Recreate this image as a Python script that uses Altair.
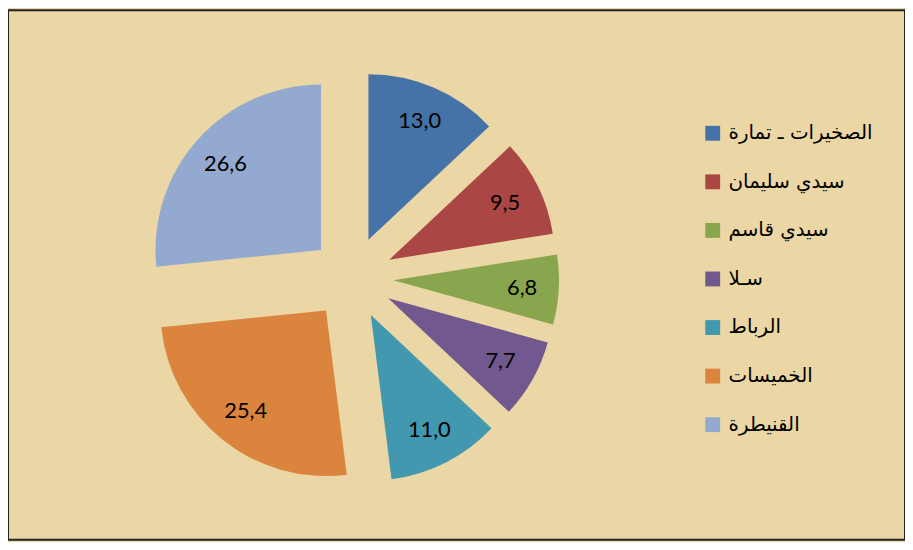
import altair as alt
import pandas as pd

# ---- data ----
regions = ["الصخيرات ـ تمارة", "سيدي سليمان", "سيدي قاسم", "سـلا", "الرباط", "الخميسات", "القنيطرة"]
shares = [13.0, 9.5, 6.8, 7.7, 11.0, 25.4, 26.6]
share_labels = ["13,0", "9,5", "6,8", "7,7", "11,0", "25,4", "26,6"]
colors = ["#4572A7", "#AA4643", "#89A54E", "#71588F", "#4198AF", "#DB843D", "#93A9CF"]

# ---- layout / style ----
W, H = 905, 534
CX, CY = 347, 270       # pie centre (pixels in the plot area)
R = 167                 # slice radius
EXPLODE = 42            # distance each slice is pulled out
LABEL_R = 130           # label distance from slice apex
BG = "#EBD6A5"

df = pd.DataFrame({
    "region": regions,
    "share": shares,
    "label": share_labels,
    "order": list(range(len(regions))),
})

base = alt.Chart(df).transform_window(
    cum="sum(share)", sort=[alt.SortField("order")], frame=[None, 0]
).transform_joinaggregate(
    total="sum(share)"
).transform_calculate(
    t0="2*PI*(datum.cum - datum.share)/datum.total",
    t1="2*PI*datum.cum/datum.total",
).transform_calculate(
    mid="(datum.t0 + datum.t1)/2",
).transform_calculate(
    cx=f"{CX} + {EXPLODE}*sin(datum.mid)",
    cy=f"{CY} - {EXPLODE}*cos(datum.mid)",
).transform_calculate(
    tx=f"datum.cx + {LABEL_R}*sin(datum.mid)",
    ty=f"datum.cy - {LABEL_R}*cos(datum.mid)",
)

arcs = base.mark_arc(outerRadius=R).encode(
    theta=alt.Theta("t0:Q", scale=None),
    theta2="t1:Q",
    x=alt.X("cx:Q", scale=None),
    y=alt.Y("cy:Q", scale=None),
    color=alt.Color(
        "region:N",
        scale=alt.Scale(domain=regions, range=colors),
        sort=regions,
        legend=alt.Legend(
            title=None,
            orient="none",
            legendX=701,
            legendY=114,
            symbolType="square",
            symbolSize=225,
            symbolStrokeWidth=0,
            labelFontSize=20,
            labelFont="DejaVu Sans",
            labelColor="#000000",
            labelOffset=6,
            labelLimit=0,
            rowPadding=29,
        ),
    ),
)

texts = base.mark_text(font="Lato", fontSize=22, color="#000000").encode(
    x=alt.X("tx:Q", scale=None),
    y=alt.Y("ty:Q", scale=None),
    text="label:N",
)

chart = alt.layer(arcs, texts).properties(
    width=W,
    height=H,
    autosize=alt.AutoSizeParams(type="none"),
    padding=0,
    background=BG,
).configure_view(
    fill=BG,
    stroke="#222222",
    strokeWidth=2,
)

chart.save("out.html", embed_options={"renderer": "svg", "actions": False})
